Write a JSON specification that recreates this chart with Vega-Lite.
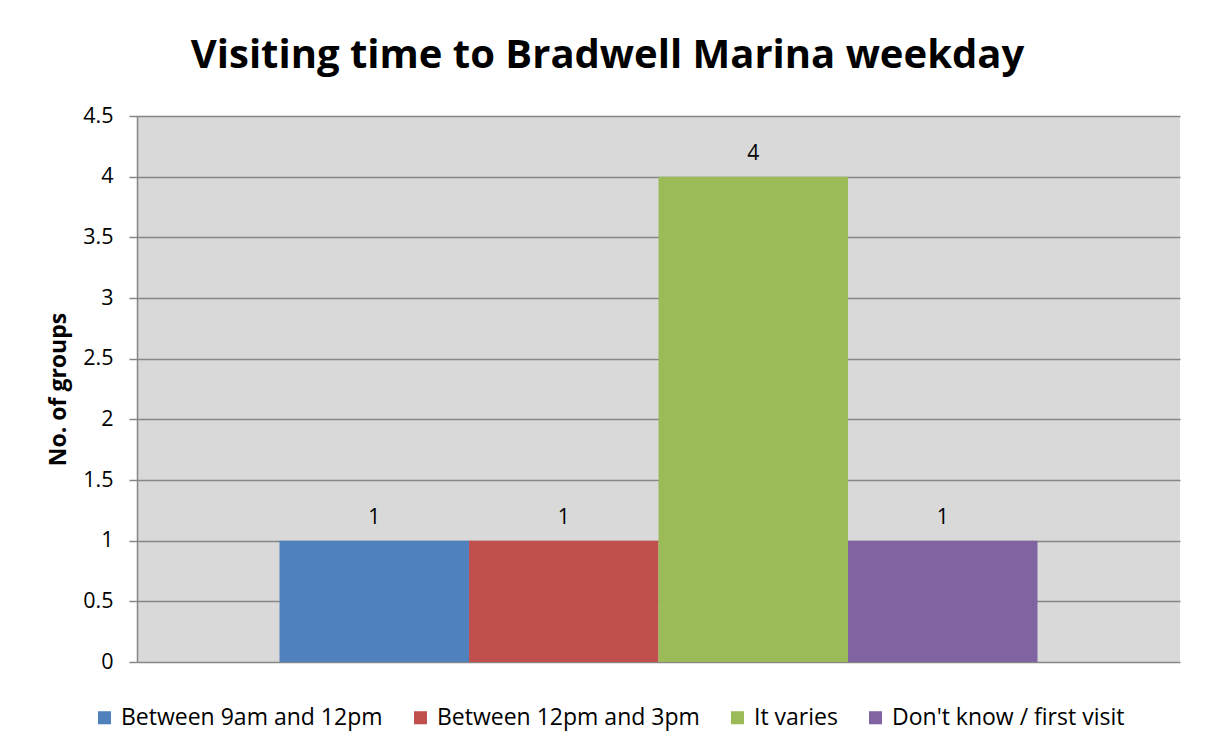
{
  "$schema": "https://vega.github.io/schema/vega-lite/v6.json",
  "width": 1043,
  "height": 546,
  "autosize": {"type": "none"},
  "padding": {"left": 137, "top": 116, "right": 26, "bottom": 91},
  "background": "white",
  "title": {
    "text": "Visiting time to Bradwell Marina weekday",
    "font": "Open Sans",
    "fontSize": 40,
    "fontWeight": "bold",
    "color": "#000000",
    "anchor": "middle",
    "frame": "group",
    "dx": -51,
    "offset": 29
  },
  "data": {
    "values": [
      {"series": "Between 9am and 12pm", "value": 1},
      {"series": "Between 12pm and 3pm", "value": 1},
      {"series": "It varies", "value": 4},
      {"series": "Don't know / first visit", "value": 1}
    ]
  },
  "encoding": {
    "x": {
      "field": "series",
      "type": "nominal",
      "sort": null,
      "scale": {"paddingInner": 0, "paddingOuter": 0.752},
      "axis": {"labels": false, "ticks": false, "title": null, "domain": false, "grid": false}
    },
    "y": {
      "field": "value",
      "type": "quantitative",
      "scale": {"domain": [0, 4.5], "nice": false},
      "axis": {
        "values": [0, 0.5, 1, 1.5, 2, 2.5, 3, 3.5, 4, 4.5],
        "format": "~g",
        "title": "No. of groups",
        "titleFont": "Open Sans",
        "titleFontSize": 23,
        "titleFontWeight": "bold",
        "titleColor": "#000000",
        "titlePadding": 12,
        "labelFont": "Open Sans",
        "labelFontSize": 21.5,
        "labelColor": "#000000",
        "labelPadding": 16,
        "tickSize": 8,
        "tickColor": "#868686",
        "tickWidth": 1.5,
        "domainColor": "#868686",
        "domainWidth": 1.5,
        "gridColor": "#868686",
        "gridWidth": 1.5,
        "gridOpacity": 1
      }
    }
  },
  "layer": [
    {
      "mark": {"type": "bar"},
      "encoding": {
        "color": {
          "field": "series",
          "type": "nominal",
          "sort": null,
          "scale": {
            "domain": ["Between 9am and 12pm", "Between 12pm and 3pm", "It varies", "Don't know / first visit"],
            "range": ["#4F81BD", "#C0504D", "#9BBB59", "#8064A2"]
          },
          "legend": {
            "title": null,
            "orient": "none",
            "legendX": -44,
            "legendY": 590,
            "direction": "horizontal",
            "columns": 4,
            "symbolType": "square",
            "symbolSize": 170,
            "symbolStrokeWidth": 0,
            "symbolOpacity": 1,
            "labelFont": "Open Sans",
            "labelFontSize": 23,
            "labelColor": "#000000",
            "labelOffset": 5,
            "columnPadding": 26,
            "labelLimit": 500
          }
        }
      }
    },
    {
      "mark": {"type": "text", "font": "Open Sans", "fontSize": 21, "color": "#000000", "baseline": "alphabetic", "dy": -17},
      "encoding": {"text": {"field": "value", "type": "quantitative"}}
    }
  ],
  "config": {
    "view": {"fill": "#D9D9D9", "stroke": null}
  }
}
